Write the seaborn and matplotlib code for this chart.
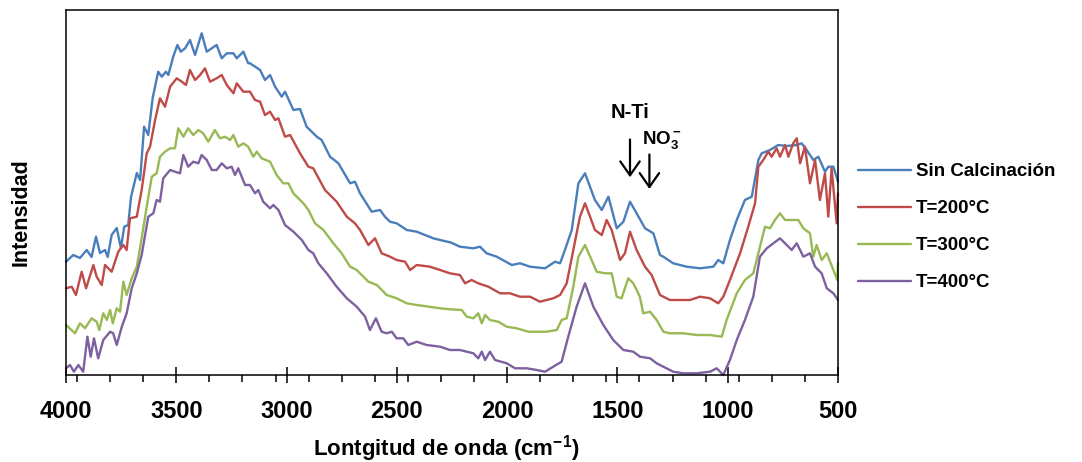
import matplotlib
matplotlib.use("Agg")
import numpy as np
import pandas as pd
import matplotlib.pyplot as plt
import seaborn as sns
from matplotlib.ticker import FixedLocator

# ---------------- data (wavenumber cm-1, intensity a.u.) ----------------
labels = ["Sin Calcinación", "T=200°C", "T=300°C", "T=400°C"]
colors = ["#4A7EBB", "#BE4B48", "#98B954", "#7D60A0"]

w_sin = [4000,3967,3937,3906,3884,3864,3846,3823,3811,3793,3770,3751,3736,3718,3705,3679,3664,3646,3627,3607,
         3582,3566,3547,3536,3514,3495,3480,3460,3438,3415,3385,3362,3317,3294,3271,3241,3226,3196,3174,3166,
         3120,3098,3075,3052,3022,3007,2969,2939,2909,2863,2841,2803,2765,2712,2690,2667,2614,2576,2554,2531,
         2501,2455,2410,2335,2304,2255,2214,2153,2123,2093,2047,1979,1942,1896,1828,1783,1760,1738,1707,1677,
         1647,1602,1571,1541,1503,1473,1443,1413,1375,1337,1307,1292,1247,1186,1126,1065,1043,1020,990,959,
         922,891,861,846,808,771,733,687,665,642,612,589,559,544,521,500]
i_sin = [113.3,120,117,125,118,138.3,122,125,118,140,147,127,148.3,150,178.3,202,195,248.3,240,277,
         303.3,298.3,303.3,300,318.3,330,323.3,326.7,335,320,341.7,323.3,330,316.7,321.7,321.7,316.7,323.3,311.7,311.7,
         305,295,300,288.3,278.3,283.3,265,266,248.3,238.3,235,218.3,211.7,191.7,193.3,181.7,163.3,165,158.3,153.3,
         151.7,145,143.3,136.7,135,132.5,128.3,126.7,128.3,121.7,118.3,110,111.7,108.3,106.7,113.3,111.7,125,145,191.7,
         201.7,175,165,178.3,146.7,153.3,173.3,161.7,146.7,141.7,120,118.3,111.7,108.3,106.7,108.3,115,111.7,135,155,
         175,178.3,215,221.7,225,230,229,230,231.7,225,215,218.3,203.3,208.3,208.3,193.3]

w_200 = [4000,3974,3955,3929,3909,3876,3861,3838,3823,3793,3763,3740,3725,3710,3679,3657,3634,3619,3596,3574,
         3551,3528,3498,3475,3456,3438,3415,3392,3370,3347,3317,3294,3271,3241,3226,3196,3166,3143,3120,3098,
         3075,3052,3037,3007,2984,2939,2901,2879,2826,2773,2727,2690,2667,2629,2599,2569,2531,2501,2463,2440,
         2410,2350,2304,2259,2214,2191,2161,2131,2085,2032,1987,1942,1896,1851,1791,1760,1730,1700,1670,1647,
         1624,1602,1571,1549,1526,1488,1466,1443,1413,1375,1345,1307,1262,1216,1171,1126,1080,1043,1020,990,
         944,907,876,861,839,816,801,778,763,740,725,703,687,672,650,627,604,582,559,544,529,506,500]
i_200 = [86.7,88.3,80,103.3,86.7,110,98.3,90,110,103.3,123.3,130,125,156.7,158.3,185,221.7,228.3,255,276.7,
         268.3,288.3,296.7,293.3,290,305,295,300,306.7,293.3,296.7,300,290,281.7,291.7,283.3,283.3,275,273.3,260,
         263.3,255,256.7,238.3,240,221.7,208.3,206.7,185,173.3,158.3,151.7,145,130,136.7,121.7,118.3,115,113.3,105,
         110,108.3,105,101.7,100,91.7,95,91.7,88.3,81.7,81.7,78.3,78.3,73.3,76.7,80,91.7,125,158.3,171.7,
         158.3,145,140,155,145,115,121.7,143.3,125,108.3,100,80,75,75,75,78.3,76.7,71.7,78.3,95,
         121.7,148.3,171.7,208.3,215,223.3,218.3,226.7,218.3,230,218.3,231.7,236.7,211.7,228.3,191.7,215,175,201.7,158.3,
         206.7,151.7,181.7]

w_300 = [4000,3959,3937,3914,3884,3861,3849,3831,3815,3800,3788,3770,3755,3740,3725,3702,3679,3657,3634,3611,
         3589,3574,3551,3528,3506,3491,3468,3446,3423,3400,3378,3355,3325,3302,3279,3256,3241,3219,3196,3174,
         3151,3135,3113,3075,3045,3015,2992,2969,2924,2901,2871,2833,2788,2750,2712,2682,2629,2591,2546,2501,
         2455,2410,2335,2304,2259,2206,2183,2153,2131,2115,2100,2078,2040,2002,1957,1904,1866,1821,1775,1753,
         1730,1700,1677,1647,1617,1594,1556,1526,1503,1481,1451,1428,1413,1398,1383,1352,1322,1292,1262,1201,
         1141,1080,1027,1005,959,922,884,846,831,808,786,763,740,710,680,657,627,612,597,574,
         551,521,503,500]
i_300 = [50,41.7,51.7,46.7,56.7,53.3,45,61.7,55,65,51.7,66.7,63.3,93.3,80,96.7,108.3,136.7,168.3,198.3,
         201.7,218.3,223.3,226.7,226.7,246.7,238.3,246.7,240,245,241.7,233.3,245,236.7,238.3,235,240,228.3,231.7,228.3,
         218.3,223.3,216.7,213.3,200,191.7,191.7,181.7,171.7,165,151.7,145,131.7,121.7,108.3,105,93.3,90,80,76.7,
         71.7,70,67.7,66.7,65.7,65,58.3,56.7,61.7,51.7,60,55,53.3,48.3,46.7,43.3,43.3,43.3,45,55,
         56.7,88.3,118.3,130,115,103.3,101.7,101.7,78.3,76.7,96.7,91.7,85,78,61.7,63.3,55,43.3,41.7,41.7,
         40,40,38.3,55,81.7,95,101.7,135,148.3,146.7,155,161.7,155,155,155,146.7,141.7,118.3,130,115,
         121.7,105,95,112]

w_400 = [4000,3982,3964,3944,3922,3903,3888,3873,3854,3831,3800,3786,3770,3747,3725,3702,3679,3657,3627,3604,
         3589,3574,3559,3528,3506,3483,3468,3446,3423,3400,3385,3362,3339,3317,3294,3271,3249,3234,3219,3188,
         3166,3143,3128,3106,3075,3060,3037,3007,2969,2931,2901,2879,2856,2818,2773,2727,2682,2644,2622,2595,
         2569,2546,2523,2501,2471,2448,2410,2365,2304,2259,2214,2153,2131,2115,2100,2078,2055,2002,1964,1911,
         1866,1828,1791,1753,1723,1685,1647,1609,1564,1519,1473,1428,1398,1352,1322,1292,1247,1201,1141,1080,
         1050,1020,990,959,922,884,854,823,793,763,740,710,687,657,627,604,574,551,521,500]
i_400 = [6.7,10,3.3,10,3.3,38.3,18.3,36.7,16.7,35,43.3,41.7,30,48.3,61.7,86.7,101.7,120,158.3,161.7,
         175,173.3,196.7,205,203.3,201.7,220,208.3,213.3,211.7,220,215,205,205,211.7,206.7,208.3,200,206.7,190,
         190,181.7,185,173.3,166.7,170,165,150,143.3,135,125,121.7,111.7,101.7,88.3,76.7,68.3,58.3,45,56.7,
         43.3,41.7,43.3,36.7,36.7,30,33.3,30,28.3,25,25,21.7,16.7,23.3,15,23.3,15,11.7,6.7,6.7,
         5,3.3,8.3,13.3,38.3,68.3,91.7,68.3,50,35,25,23.3,18.3,16.7,11.7,8.3,3.3,1.7,1.7,3.3,
         6.7,0,15,35,55,78.3,118.3,126.7,131.7,136.7,131.7,125,131.7,118.3,121.7,108.3,101.7,86.7,81.7,75]

major_ticks = [4000, 3500, 3000, 2500, 2000, 1500, 1000, 500]

# ---------------- build table ----------------
frames = []
for lab, w, i in zip(labels, [w_sin, w_200, w_300, w_400], [i_sin, i_200, i_300, i_400]):
    frames.append(pd.DataFrame({"w": w, "I": i}).assign(serie=lab))
df = pd.concat(frames, ignore_index=True)

# ---------------- style ----------------
sns.set_style("white")
plt.rcParams["font.family"] = ["Liberation Sans", "DejaVu Sans"]
plt.rcParams["font.weight"] = "bold"
plt.rcParams["text.color"] = "black"
plt.rcParams["axes.labelcolor"] = "black"
plt.rcParams["mathtext.fontset"] = "custom"
plt.rcParams["mathtext.rm"] = "Liberation Sans:bold"
plt.rcParams["mathtext.bf"] = "Liberation Sans:bold"
plt.rcParams["mathtext.it"] = "Liberation Sans:bold"

fig = plt.figure(figsize=(10.82, 4.62), dpi=100)
ax = fig.add_axes([66 / 1082, 1 - 375 / 462, 772 / 1082, 365 / 462])

sns.lineplot(data=df, x="w", y="I", hue="serie", hue_order=labels,
             palette=dict(zip(labels, colors)), estimator=None, sort=False,
             lw=1.7, ax=ax)

ax.set_xlim(4000, 500)
ax.set_ylim(0, 365)
ax.set_yticks([])
ax.xaxis.set_major_locator(FixedLocator(major_ticks))
ax.xaxis.set_minor_locator(FixedLocator(list(range(650, 4000, 150))))
ax.tick_params(axis="x", which="both", bottom=True, top=False)
ax.tick_params(axis="x", which="major", direction="inout", length=11, width=1.1,
               pad=12.5, labelsize=17, colors="black")
ax.tick_params(axis="x", which="minor", direction="out", length=5, width=1.1, colors="black")
for s in ax.spines.values():
    s.set_color("black")
    s.set_linewidth(1.1)
for ln in ax.lines:
    ln.set_clip_on(False)

ax.set_xlabel(r"Lontgitud de onda (cm$^{-1}$)", fontsize=16, fontweight="bold")
ax.xaxis.set_label_coords(0.492, -0.158)
ax.set_ylabel("Intensidad", fontsize=15.5, fontweight="bold")
ax.yaxis.set_label_coords(-0.045, 0.447)

# annotations
arrow_style = "->,head_width=0.35,head_length=0.5"
ax.annotate("", xy=(1443, 195), xytext=(1443, 238.3),
            arrowprops=dict(arrowstyle=arrow_style, lw=1.6, color="black", mutation_scale=20))
ax.annotate("", xy=(1355, 183.3), xytext=(1355, 223.3),
            arrowprops=dict(arrowstyle=arrow_style, lw=1.6, color="black", mutation_scale=20))
ax.text(1443, 262, "N-Ti", ha="center", va="center", fontsize=14.5, fontweight="bold")
ax.text(1389, 235, r"NO$_3^-$", ha="left", va="center", fontsize=13.5, fontweight="bold")

ax.legend(loc="center left", bbox_to_anchor=(858 / 1082, 1 - 227 / 462),
          bbox_transform=fig.transFigure, frameon=False,
          prop={"size": 13.5, "weight": "bold"}, handlelength=2.8,
          handletextpad=0.3, labelspacing=1.06, borderpad=0, borderaxespad=0)

fig.savefig("out.png", dpi=100)
